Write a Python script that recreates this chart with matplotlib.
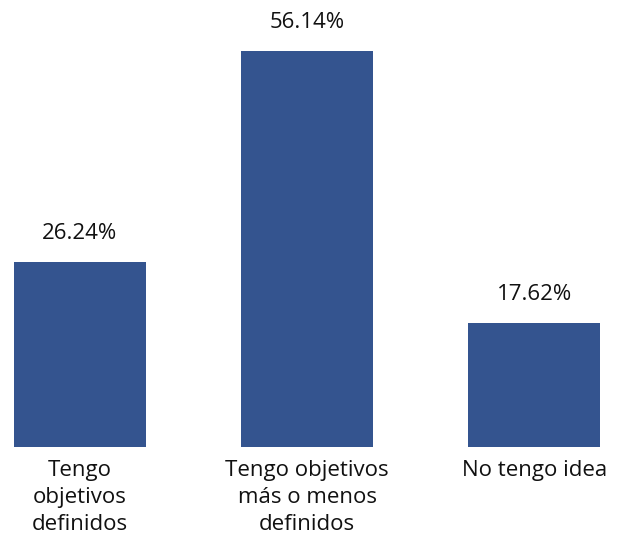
import matplotlib.pyplot as plt

categories = ['Tengo\nobjetivos\ndefinidos', 'Tengo objetivos\nmás o menos\ndefinidos', 'No tengo idea']
values = [26.24, 56.14, 17.62]
labels = ['26.24%', '56.14%', '17.62%']

plt.rcParams['font.family'] = ['Open Sans', 'DejaVu Sans']

fig = plt.figure(figsize=(6.25, 5.4), dpi=100)
ax = fig.add_axes([0, 0.1722, 1, 0.8278])

x = range(len(values))
bars = ax.bar(x, values, width=0.58, color='#34548f')

for b, lab in zip(bars, labels):
    ax.annotate(lab, (b.get_x() + b.get_width() / 2, b.get_height()),
                xytext=(0, 13), textcoords='offset points',
                ha='center', va='bottom', fontsize=16, color='#111111')

ax.set_xlim(-0.352, 2.40)
ax.set_ylim(0, 63.4)
ax.set_xticks(list(x))
ax.set_xticklabels(categories, fontsize=16, color='#111111', linespacing=1.4)
ax.tick_params(axis='x', length=0, pad=9)
ax.set_yticks([])
for s in ax.spines.values():
    s.set_visible(False)

fig.savefig('out.png', dpi=100)
